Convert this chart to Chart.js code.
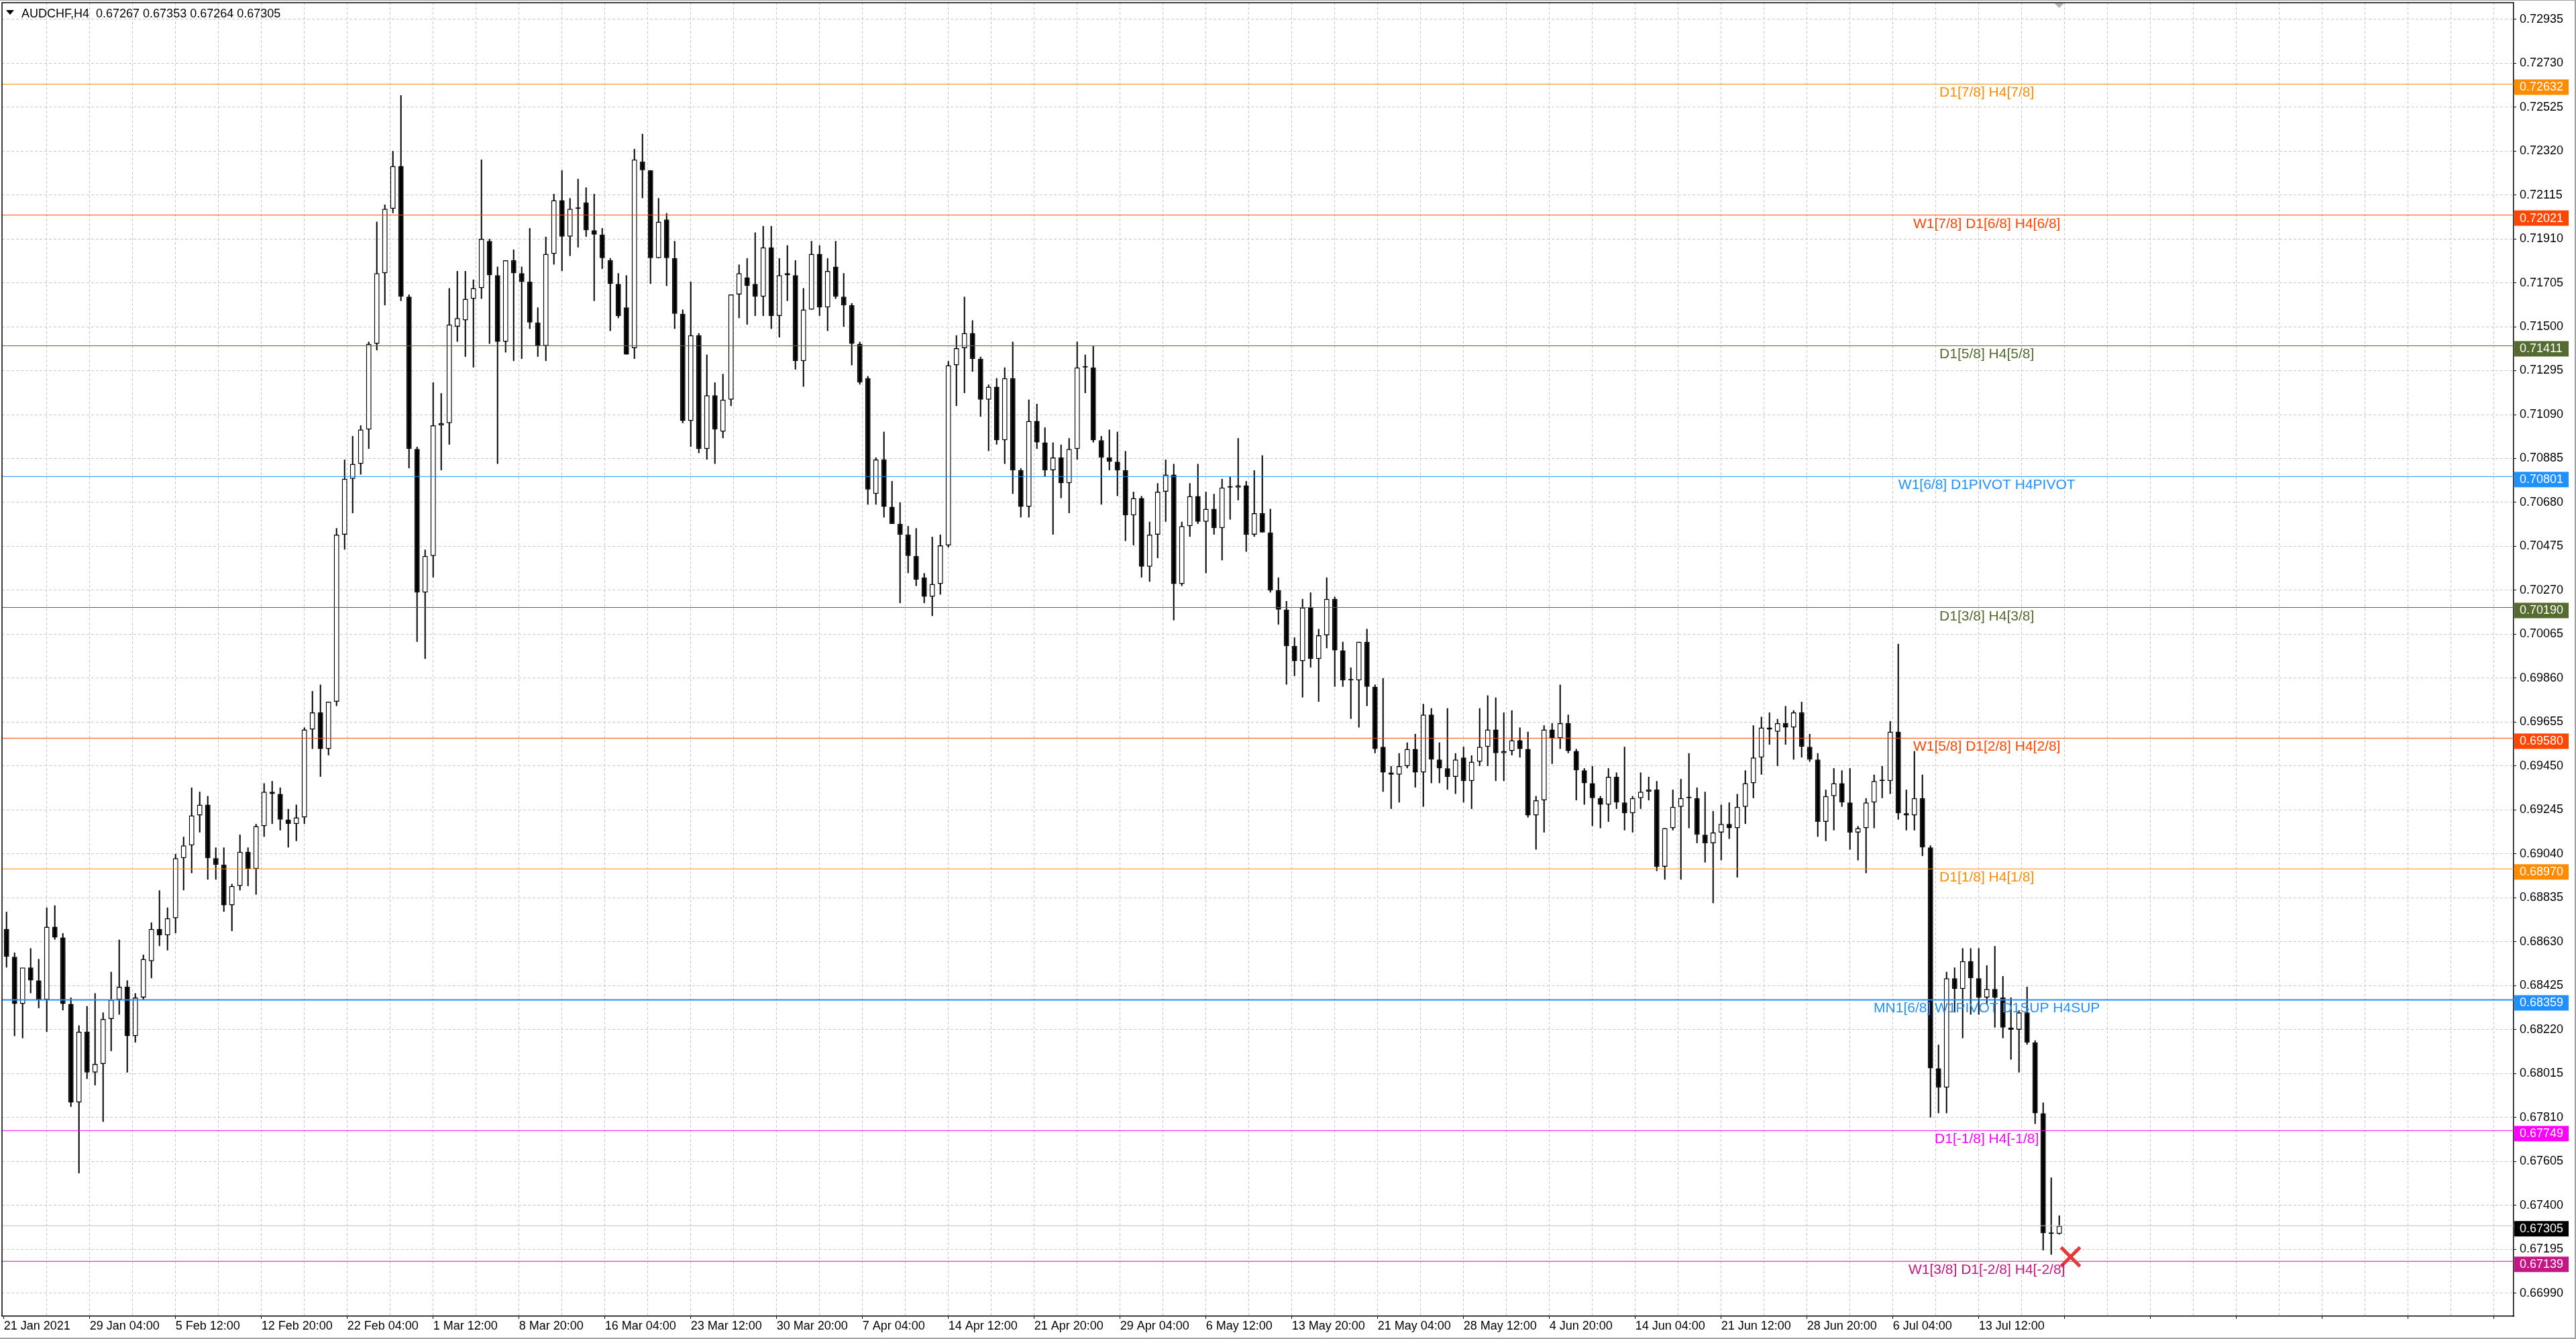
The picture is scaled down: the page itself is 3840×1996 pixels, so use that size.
<!DOCTYPE html>
<html lang="en">
<head>
<meta charset="utf-8">
<title>AUDCHF,H4</title>
<script src="https://cdn.jsdelivr.net/npm/chart.js@4.4.1/dist/chart.umd.min.js"></script>
<style>
  html, body { margin: 0; padding: 0; background: #ffffff; overflow: hidden; }
  #chartBox { position: relative; width: 3840px; height: 1996px; }
</style>
</head>
<body>
<div id="chartBox"><canvas id="priceChart"></canvas></div>
<script>
// --- 1. DATA (one candle = three H4 bars) ---
const chartTitle = 'AUDCHF,H4  0.67267 0.67353 0.67264 0.67305';

const opens = [
  0.6869,0.6856,0.6834,0.6851,0.6845,0.6836,0.6870,0.6865,0.6834,0.6788,0.6821,0.6802,0.6806,0.6827,0.6836,0.6842,
  0.6819,0.6837,0.6854,0.6869,0.6866,0.6874,0.6902,0.6908,0.6922,0.6927,0.6902,0.6899,0.6880,0.6889,0.6905,0.6897,
  0.6917,0.6933,0.6932,0.6920,0.6918,0.6921,0.6962,0.6970,0.6953,0.6975,0.7053,0.7079,0.7086,0.7102,0.7142,0.7175,
  0.7205,0.7225,0.7164,0.7093,0.7026,0.7043,0.7104,0.7105,0.7150,0.7153,0.7163,0.7168,0.7190,0.7174,0.7143,0.7181,
  0.7175,0.7171,0.7152,0.7141,0.7184,0.7209,0.7192,0.7205,0.7208,0.7195,0.7193,0.7181,0.7170,0.7159,0.7140,0.7227,
  0.7223,0.7182,0.7200,0.7182,0.7156,0.7106,0.7146,0.7093,0.7118,0.7101,0.7116,0.7165,0.7173,0.7170,0.7164,0.7187,
  0.7155,0.7175,0.7174,0.7134,0.7158,0.7184,0.7159,0.7178,0.7164,0.7160,0.7142,0.7126,0.7072,0.7088,0.7066,0.7058,
  0.7053,0.7043,0.7033,0.7024,0.7030,0.7048,0.7132,0.7140,0.7147,0.7135,0.7116,0.7122,0.7097,0.7126,0.7083,0.7066,
  0.7106,0.7096,0.7083,0.7089,0.7077,0.7093,0.7131,0.7131,0.7097,0.7089,0.7087,0.7083,0.7062,0.7070,0.7038,0.7053,
  0.7073,0.7081,0.7030,0.7057,0.7071,0.7059,0.7065,0.7056,0.7075,0.7075,0.7076,0.7053,0.7063,0.7054,0.7027,0.7018,
  0.7001,0.6994,0.7019,0.6995,0.7006,0.7023,0.6999,0.6985,0.6985,0.7003,0.6982,0.6954,0.6942,0.6941,0.6945,0.6953,
  0.6942,0.6969,0.6948,0.6944,0.6940,0.6949,0.6938,0.6947,0.6954,0.6962,0.6951,0.6952,0.6957,0.6953,0.6922,0.6929,
  0.6962,0.6958,0.6965,0.6952,0.6943,0.6937,0.6930,0.6927,0.6940,0.6928,0.6923,0.6930,0.6933,0.6934,0.6898,0.6916,
  0.6926,0.6930,0.6930,0.6913,0.6909,0.6914,0.6918,0.6916,0.6926,0.6937,0.6949,0.6963,0.6961,0.6965,0.6963,0.6970,
  0.6954,0.6948,0.6919,0.6931,0.6937,0.6928,0.6914,0.6916,0.6928,0.6938,0.6938,0.6961,0.6923,0.6922,0.6930,0.6907,
  0.6804,0.6795,0.6846,0.6841,0.6854,0.6846,0.6837,0.6841,0.6837,0.6823,0.6822,0.6830,0.6816,0.6783,0.6727,0.67267
];
const highs = [
  0.6877,0.6858,0.6839,0.6860,0.6855,0.6879,0.6880,0.6867,0.6837,0.6824,0.6833,0.6839,0.6830,0.6849,0.6864,0.6845,
  0.6839,0.6857,0.6872,0.6887,0.6879,0.6904,0.6912,0.6935,0.6933,0.6931,0.6907,0.6907,0.6890,0.6913,0.6907,0.6918,
  0.6937,0.6938,0.6935,0.6925,0.6927,0.6963,0.6980,0.6983,0.6975,0.7056,0.7088,0.7099,0.7104,0.7143,0.7199,0.7207,
  0.7232,0.7258,0.7165,0.7094,0.7046,0.7124,0.7119,0.7168,0.7176,0.7176,0.7172,0.7228,0.7191,0.7178,0.7181,0.7186,
  0.7178,0.7196,0.7159,0.7192,0.7212,0.7223,0.7210,0.7219,0.7215,0.7212,0.7196,0.7182,0.7175,0.7174,0.7233,0.7240,
  0.7223,0.7210,0.7203,0.7190,0.7158,0.7171,0.7147,0.7137,0.7124,0.7128,0.7165,0.7179,0.7182,0.7194,0.7197,0.7197,
  0.7182,0.7188,0.7181,0.7168,0.7190,0.7188,0.7182,0.7190,0.7175,0.7161,0.7143,0.7127,0.7089,0.7101,0.7078,0.7068,
  0.7057,0.7056,0.7035,0.7052,0.7053,0.7134,0.7146,0.7164,0.7153,0.7136,0.7123,0.7126,0.7131,0.7143,0.7084,0.7116,
  0.7114,0.7103,0.7096,0.7095,0.7098,0.7143,0.7137,0.7141,0.7099,0.7102,0.7101,0.7092,0.7073,0.7071,0.7059,0.7077,
  0.7088,0.7086,0.7059,0.7077,0.7086,0.7073,0.7072,0.7079,0.7080,0.7098,0.7078,0.7083,0.7090,0.7065,0.7033,0.7022,
  0.7005,0.7023,0.7026,0.7009,0.7033,0.7024,0.7003,0.6991,0.7003,0.7009,0.6983,0.6986,0.6945,0.6951,0.6956,0.6960,
  0.6974,0.6972,0.6956,0.6972,0.6951,0.6954,0.6950,0.6972,0.6978,0.6977,0.6970,0.6971,0.6963,0.6961,0.6931,0.6964,
  0.6965,0.6983,0.6969,0.6953,0.6944,0.6945,0.6931,0.6944,0.6942,0.6954,0.6931,0.6942,0.6940,0.6938,0.6916,0.6934,
  0.6939,0.6951,0.6935,0.6933,0.6924,0.6927,0.6928,0.6932,0.6943,0.6964,0.6968,0.6970,0.6967,0.6973,0.6971,0.6975,
  0.6960,0.6951,0.6934,0.6944,0.6943,0.6944,0.6917,0.6930,0.6941,0.6945,0.6966,0.7002,0.6934,0.6952,0.6941,0.6908,
  0.6815,0.6849,0.6851,0.6860,0.6860,0.6860,0.6852,0.6861,0.6847,0.6837,0.6831,0.6842,0.6817,0.6788,0.6753,0.67353
];
const lows = [
  0.6851,0.6819,0.6818,0.6839,0.6832,0.6821,0.6864,0.6831,0.6786,0.6755,0.6799,0.6796,0.6779,0.6812,0.6829,0.6802,
  0.6816,0.6836,0.6846,0.6861,0.6859,0.6867,0.6887,0.6895,0.6914,0.6892,0.6892,0.6877,0.6868,0.6887,0.6889,0.6885,
  0.6912,0.6918,0.6915,0.6907,0.6910,0.6918,0.6953,0.6940,0.6950,0.6973,0.7046,0.7063,0.7081,0.7093,0.7139,0.7160,
  0.7203,0.7162,0.7084,0.7003,0.6995,0.7033,0.7083,0.7095,0.7143,0.7136,0.7131,0.7163,0.7142,0.7086,0.7138,0.7134,
  0.7135,0.7149,0.7136,0.7134,0.7179,0.7176,0.7183,0.7187,0.7192,0.7162,0.7177,0.7148,0.7154,0.7137,0.7135,0.7210,
  0.7170,0.7182,0.7169,0.7149,0.7105,0.7094,0.7091,0.7088,0.7086,0.7098,0.7113,0.7154,0.7151,0.7155,0.7155,0.7149,
  0.7145,0.7162,0.7130,0.7122,0.7158,0.7155,0.7148,0.7163,0.7150,0.7132,0.7123,0.7067,0.7067,0.7061,0.7058,0.7021,
  0.7035,0.7029,0.7021,0.7015,0.7025,0.7047,0.7113,0.7119,0.7129,0.7108,0.7092,0.7095,0.7086,0.7072,0.7061,0.7061,
  0.7093,0.7080,0.7053,0.7070,0.7063,0.7088,0.7119,0.7096,0.7067,0.7083,0.7071,0.7050,0.7048,0.7033,0.7031,0.7042,
  0.7059,0.7013,0.7029,0.7052,0.7058,0.7035,0.7053,0.7041,0.7060,0.7069,0.7045,0.7052,0.7054,0.7026,0.7011,0.6983,
  0.6987,0.6977,0.6991,0.6975,0.7000,0.6982,0.6982,0.6967,0.6963,0.6973,0.6951,0.6933,0.6925,0.6928,0.6944,0.6935,
  0.6926,0.6937,0.6937,0.6934,0.6932,0.6928,0.6925,0.6945,0.6945,0.6938,0.6938,0.6950,0.6949,0.6921,0.6906,0.6914,
  0.6946,0.6953,0.6951,0.6929,0.6927,0.6917,0.6916,0.6919,0.6925,0.6915,0.6914,0.6925,0.6929,0.6896,0.6892,0.6915,
  0.6892,0.6916,0.6909,0.6900,0.6881,0.6901,0.6911,0.6893,0.6918,0.6930,0.6941,0.6955,0.6945,0.6955,0.6948,0.6949,
  0.6947,0.6912,0.6910,0.6915,0.6926,0.6906,0.6901,0.6895,0.6916,0.6930,0.6932,0.6920,0.6915,0.6915,0.6903,0.6781,
  0.6783,0.6783,0.6830,0.6818,0.6829,0.6829,0.6834,0.6823,0.6818,0.6808,0.6802,0.6815,0.6778,0.6719,0.6717,0.67264
];
const closes = [
  0.6856,0.6834,0.6851,0.6845,0.6836,0.6870,0.6865,0.6834,0.6788,0.6821,0.6802,0.6806,0.6827,0.6836,0.6842,0.6819,
  0.6837,0.6855,0.6869,0.6866,0.6874,0.6902,0.6908,0.6922,0.6927,0.6902,0.6899,0.6880,0.6889,0.6905,0.6897,0.6917,
  0.6933,0.6932,0.6920,0.6918,0.6921,0.6962,0.6970,0.6953,0.6975,0.7053,0.7079,0.7086,0.7102,0.7142,0.7175,0.7205,
  0.7225,0.7164,0.7093,0.7026,0.7043,0.7104,0.7105,0.7151,0.7154,0.7163,0.7168,0.7191,0.7174,0.7143,0.7181,0.7175,
  0.7171,0.7152,0.7141,0.7184,0.7209,0.7192,0.7205,0.7205,0.7195,0.7193,0.7182,0.7170,0.7155,0.7137,0.7228,0.7223,
  0.7182,0.7199,0.7182,0.7156,0.7106,0.7146,0.7093,0.7118,0.7102,0.7116,0.7165,0.7175,0.7169,0.7164,0.7187,0.7155,
  0.7174,0.7174,0.7134,0.7158,0.7184,0.7159,0.7176,0.7164,0.7160,0.7142,0.7124,0.7074,0.7088,0.7066,0.7058,0.7053,
  0.7043,0.7032,0.7024,0.7030,0.7048,0.7132,0.7140,0.7147,0.7135,0.7116,0.7122,0.7097,0.7126,0.7083,0.7066,0.7106,
  0.7096,0.7083,0.7089,0.7077,0.7093,0.7131,0.7131,0.7097,0.7089,0.7087,0.7083,0.7062,0.7070,0.7038,0.7053,0.7073,
  0.7081,0.7030,0.7057,0.7071,0.7059,0.7065,0.7056,0.7075,0.7075,0.7076,0.7053,0.7063,0.7054,0.7027,0.7018,0.7001,
  0.6994,0.7019,0.6995,0.7006,0.7023,0.6999,0.6985,0.6985,0.7003,0.6982,0.6953,0.6942,0.6941,0.6945,0.6953,0.6942,
  0.6969,0.6948,0.6944,0.6940,0.6948,0.6938,0.6947,0.6954,0.6962,0.6951,0.6952,0.6957,0.6953,0.6922,0.6929,0.6962,
  0.6958,0.6965,0.6952,0.6943,0.6937,0.6930,0.6927,0.6940,0.6928,0.6923,0.6930,0.6933,0.6934,0.6898,0.6916,0.6926,
  0.6930,0.6930,0.6913,0.6909,0.6914,0.6918,0.6916,0.6926,0.6937,0.6949,0.6963,0.6962,0.6965,0.6963,0.6970,0.6954,
  0.6948,0.6919,0.6931,0.6937,0.6928,0.6914,0.6916,0.6928,0.6938,0.6938,0.6961,0.6923,0.6922,0.6930,0.6907,0.6804,
  0.6795,0.6846,0.6841,0.6854,0.6846,0.6837,0.6841,0.6837,0.6823,0.6822,0.6830,0.6816,0.6783,0.6727,0.67267,0.67305
];

// time axis: one label every 32 H4 bars, starting at bar 0
const timeLabels = [
  '21 Jan 2021', '29 Jan 04:00', '5 Feb 12:00', '12 Feb 20:00', '22 Feb 04:00', '1 Mar 12:00',
  '8 Mar 20:00', '16 Mar 04:00', '23 Mar 12:00', '30 Mar 20:00', '7 Apr 04:00', '14 Apr 12:00',
  '21 Apr 20:00', '29 Apr 04:00', '6 May 12:00', '13 May 20:00', '21 May 04:00', '28 May 12:00',
  '4 Jun 20:00', '14 Jun 04:00', '21 Jun 12:00', '28 Jun 20:00', '6 Jul 04:00', '13 Jul 12:00'
];

const priceTicks = [
  0.72935, 0.72730, 0.72525, 0.72320, 0.72115, 0.71910, 0.71705, 0.71500, 0.71295, 0.71090,
  0.70885, 0.70680, 0.70475, 0.70270, 0.70065, 0.69860, 0.69655, 0.69450, 0.69245, 0.69040,
  0.68835, 0.68630, 0.68425, 0.68220, 0.68015, 0.67810, 0.67605, 0.67400, 0.67195, 0.66990
];

// Murrey-style levels drawn as horizontal lines
const levelValues = [0.72632, 0.72021, 0.71411, 0.70801, 0.70190, 0.69580, 0.68970, 0.68359, 0.67749, 0.67139];
const levelNames = [
  'D1[7/8] H4[7/8]', 'W1[7/8] D1[6/8] H4[6/8]', 'D1[5/8] H4[5/8]', 'W1[6/8] D1PIVOT H4PIVOT',
  'D1[3/8] H4[3/8]', 'W1[5/8] D1[2/8] H4[2/8]', 'D1[1/8] H4[1/8]', 'MN1[6/8] W1PIVOT D1SUP H4SUP',
  'D1[-1/8] H4[-1/8]', 'W1[3/8] D1[-2/8] H4[-2/8]'
];
const levelColors = ['#ff8c00', '#ff4500', '#556b2f', '#1e90ff', '#556b2f', '#ff4500', '#ff8c00', '#1e90ff', '#ff00ff', '#c71585'];
const levelWidths = [1, 1, 1, 1, 1, 1, 1, 2, 1, 1];

const lastPrice = 0.67305;
const markBar = 770.2;      // red cross
const markPrice = 0.67160;

// --- 2. VIEW ---
const barsPerCandle = 3;
const xMin = -0.675, xMax = 935.325;   // 4 px per H4 bar
const yMin = 0.66883, yMax = 0.73012;
const labelBar = 739;                  // centre of level captions
const shiftBar = 766;                  // chart shift marker

const candleX = opens.map((_, i) => i * barsPerCandle + 1);
const wickData = candleX.map((x, i) => ({ x, y: [lows[i], highs[i]] }));
const bodyData = candleX.map((x, i) => ({ x, y: [opens[i], closes[i]] }));
const bodyColors = closes.map((c, i) => c >= opens[i] ? '#ffffff' : '#000000');

const xTicks = [];
for (let v = 0; v <= xMax; v += 16) xTicks.push(v);

const FONT = '"Liberation Sans", Arial, sans-serif';
Chart.defaults.font.family = FONT;
Chart.defaults.font.size = 18;
Chart.defaults.color = '#000';

// scales must not reserve room for half labels at their ends
const noEdgePadding = s => {
  s.paddingTop = 0; s.paddingBottom = 0; s.paddingLeft = 0; s.paddingRight = 0;
};

// --- 3. OVERLAY (title, frame, captions, price tags) ---
const overlay = {
  id: 'overlay',
  afterDraw(chart) {
    const { ctx, chartArea: a, scales: { x, y } } = chart;
    ctx.save();

    // outer window edge
    ctx.fillStyle = '#a0a0a0';
    ctx.fillRect(0, 0, chart.width, 1);
    ctx.fillRect(chart.width - 2, 0, 2, chart.height);
    ctx.fillRect(0, chart.height - 2, chart.width, 2);

    // plot frame top + left
    ctx.strokeStyle = '#000';
    ctx.lineWidth = 1.5;
    ctx.beginPath();
    ctx.moveTo(a.left, a.bottom);
    ctx.lineTo(a.left, a.top);
    ctx.lineTo(a.right, a.top);
    ctx.stroke();

    // title
    ctx.fillStyle = '#000';
    ctx.beginPath();
    ctx.moveTo(9, 15); ctx.lineTo(21, 15); ctx.lineTo(15, 22); ctx.closePath();
    ctx.fill();
    ctx.font = '18px ' + FONT;
    ctx.textAlign = 'left';
    ctx.textBaseline = 'alphabetic';
    ctx.fillText(chartTitle, 32, 26);

    // shift marker
    const sx = x.getPixelForValue(shiftBar);
    ctx.fillStyle = '#b4b4b4';
    ctx.beginPath();
    ctx.moveTo(sx - 7, a.top + 1); ctx.lineTo(sx + 7, a.top + 1); ctx.lineTo(sx, a.top + 8); ctx.closePath();
    ctx.fill();

    // level captions
    ctx.font = '21px ' + FONT;
    ctx.textAlign = 'center';
    const cx = x.getPixelForValue(labelBar);
    levelValues.forEach((v, i) => {
      ctx.fillStyle = levelColors[i];
      ctx.fillText(levelNames[i], cx, y.getPixelForValue(v) + 19);
    });

    // price tags on the axis
    ctx.font = '18px ' + FONT;
    ctx.textAlign = 'left';
    ctx.textBaseline = 'middle';
    const tag = (v, color) => {
      const py = y.getPixelForValue(v);
      ctx.fillStyle = color;
      ctx.fillRect(a.right + 1, py - 7, 81, 23);
      ctx.fillStyle = '#ffffff';
      ctx.fillText(v.toFixed(5), a.right + 9, py + 5);
    };
    levelValues.forEach((v, i) => tag(v, levelColors[i]));
    tag(lastPrice, '#000000');

    ctx.restore();
  }
};

// --- 4. CHART ---
const hLine = (v, color, width) => ({
  type: 'line',
  data: [{ x: xMin, y: v }, { x: xMax, y: v }],
  borderColor: color,
  borderWidth: width,
  pointRadius: 0,
  order: 2
});

new Chart(document.getElementById('priceChart'), {
  type: 'bar',
  data: {
    datasets: [
      {
        label: 'wicks', data: wickData, backgroundColor: '#000000',
        grouped: false, maxBarThickness: 2, minBarLength: 1, order: 4
      },
      {
        label: 'bodies', data: bodyData, backgroundColor: bodyColors,
        borderColor: '#000000', borderWidth: 1.5, borderSkipped: false,
        grouped: false, maxBarThickness: 8, minBarLength: 2, order: 3
      },
      ...levelValues.map((v, i) => hLine(v, levelColors[i], levelWidths[i])),
      hLine(lastPrice, '#c0c0c0', 1),
      {
        type: 'scatter', label: 'mark', data: [{ x: markBar, y: markPrice }],
        pointStyle: 'crossRot', pointRadius: 20, borderColor: '#e8393a', borderWidth: 5, order: 0
      }
    ]
  },
  options: {
    responsive: true,
    maintainAspectRatio: false,
    animation: false,
    layout: { padding: { top: 4, left: 3, right: 0, bottom: 0 }, autoPadding: false },
    plugins: { legend: { display: false }, tooltip: { enabled: false } },
    scales: {
      x: {
        type: 'linear', min: xMin, max: xMax, offset: false,
        afterBuildTicks: s => { s.ticks = xTicks.map(v => ({ value: v })); },
        afterFit: s => { s.height = 34; noEdgePadding(s); },
        ticks: {
          autoSkip: false, maxRotation: 0, minRotation: 0, align: 'start', padding: 0,
          callback: v => (v % 32 === 0 && timeLabels[v / 32]) ? timeLabels[v / 32] : ''
        },
        grid: {
          offset: false,
          color: c => (c.tick && c.tick.value > 0) ? '#c8c8c8' : 'rgba(0,0,0,0)',
          tickLength: 4,
          tickColor: c => (c.tick && c.tick.value % 32 === 0) ? '#000' : 'rgba(0,0,0,0)',
          tickBorderDash: []
        },
        border: { color: '#000', width: 1.5, dash: [4, 3] }
      },
      y: {
        type: 'linear', position: 'right', min: yMin, max: yMax,
        afterBuildTicks: s => { s.ticks = priceTicks.map(v => ({ value: v })); },
        afterFit: s => { s.width = 93; noEdgePadding(s); },
        ticks: { autoSkip: false, padding: 5, callback: v => v.toFixed(5) },
        grid: { color: '#c8c8c8', tickLength: 4, tickColor: '#000', tickBorderDash: [] },
        border: { color: '#000', width: 1.5, dash: [4, 3] }
      }
    }
  },
  plugins: [overlay]
});
</script>
</body>
</html>
